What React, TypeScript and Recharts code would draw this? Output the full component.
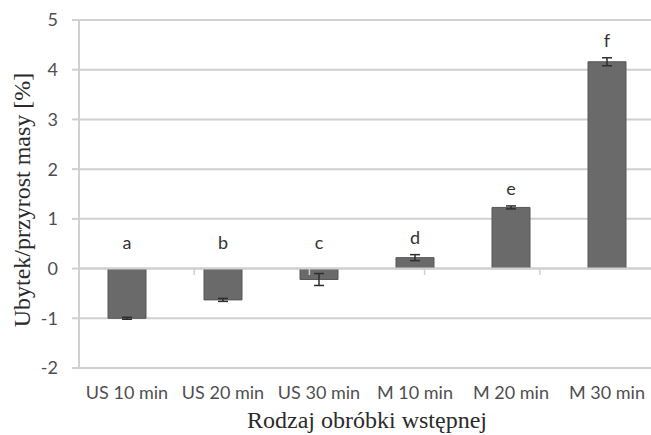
import {
  BarChart,
  Bar,
  XAxis,
  YAxis,
  CartesianGrid,
  ErrorBar,
  LabelList,
  ReferenceLine,
} from "recharts";

const categories = ["US 10 min", "US 20 min", "US 30 min", "M 10 min", "M 20 min", "M 30 min"];
const values = [-1.0, -0.63, -0.22, 0.22, 1.23, 4.16];
const errors = [0.02, 0.03, 0.12, 0.06, 0.03, 0.08];
const letters = ["a", "b", "c", "d", "e", "f"];
const yTicks = [-2, -1, 0, 1, 2, 3, 4, 5];
const boundaryTicks = [1, 2, 3, 4, 5, 6];

const data = categories.map((name, i) => ({
  name,
  value: values[i],
  err: errors[i],
}));

const gridColor = "#d0d0d0";
const tickFont = { fontFamily: "Lato, sans-serif", fontSize: 18, fill: "#4f4f4f" };

const LetterLabel = (props: any) => {
  const { x, y, width, height, index } = props;
  const v = values[index];
  const e = errors[index];
  const scale = Math.abs(height) / Math.abs(v);
  const zeroY = v >= 0 ? Math.max(y, y + height) : Math.min(y, y + height);
  const errTop = zeroY - (v + e) * scale;
  const base = Math.min(zeroY - 20, errTop - 11);
  return (
    <text
      x={x + width / 2}
      y={base}
      textAnchor="middle"
      fontFamily="Lato, sans-serif"
      fontSize={18}
      fill="#333"
    >
      {letters[index]}
    </text>
  );
};

const YTitle = (props: any) => {
  const { viewBox } = props;
  const cx = viewBox.x + 22;
  const cy = viewBox.y + viewBox.height / 2 + 6;
  return (
    <text
      x={cx}
      y={cy}
      transform={`rotate(-90 ${cx} ${cy})`}
      textAnchor="middle"
      dominantBaseline="central"
      fontFamily="'Liberation Serif', serif"
      fontSize={24}
      fill="#2b2b2b"
    >
      Ubytek/przyrost masy [%]
    </text>
  );
};

export default function App() {
  return (
    <div style={{ position: "absolute", left: 0, top: 0, width: 651, height: 435, overflow: "hidden", background: "#fff" }}>
      <BarChart width={660} height={435} data={data} margin={{ top: 20, right: 5, bottom: 0, left: 0 }}>
        <CartesianGrid vertical={false} stroke={gridColor} strokeWidth={2} xAxisId="cat" />
        <XAxis
          xAxisId="cat"
          dataKey="name"
          axisLine={false}
          tickLine={false}
          tickSize={0}
          tickMargin={18}
          height={67}
          tick={tickFont}
          label={{
            value: "Rodzaj obróbki wstępnej",
            position: "insideBottom",
            offset: 7,
            style: { fontFamily: "'Liberation Serif', serif", fontSize: 24, fill: "#2b2b2b" },
          }}
        />
        <XAxis xAxisId="num" type="number" domain={[0, 6]} hide allowDataOverflow />
        <YAxis
          domain={[-2, 5]}
          ticks={yTicks}
          interval={0}
          width={79}
          axisLine={{ stroke: gridColor, strokeWidth: 2 }}
          tickLine={{ stroke: gridColor, strokeWidth: 2 }}
          tickSize={7}
          tickMargin={14}
          tick={tickFont}
          label={<YTitle />}
        />
        <Bar
          xAxisId="cat"
          dataKey="value"
          fill="#6a6a6a"
          stroke="#575757"
          strokeWidth={1}
          barSize={38}
          isAnimationActive={false}
        >
          <ErrorBar dataKey="err" width={5} stroke="#2e2e2e" strokeWidth={1.5} />
          <LabelList dataKey="value" content={<LetterLabel />} />
        </Bar>
        <ReferenceLine xAxisId="cat" y={0} stroke={gridColor} strokeWidth={2} />
        {boundaryTicks.map((t) => (
          <ReferenceLine
            key={t}
            xAxisId="num"
            segment={[
              { x: t, y: 0 },
              { x: t, y: -0.13 },
            ]}
            stroke={gridColor}
            strokeWidth={1.5}
          />
        ))}
      </BarChart>
    </div>
  );
}
